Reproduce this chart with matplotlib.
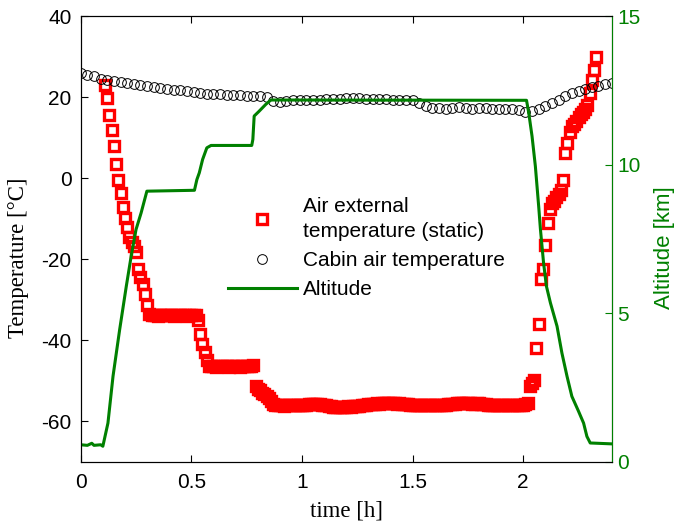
import matplotlib.pyplot as plt
import numpy as np

plt.rcParams['font.family'] = ['Liberation Sans', 'DejaVu Sans']
plt.rcParams['axes.unicode_minus'] = False

# Air external temperature (static) [degC], logged every 0.01 h from t = 0.11 h
air_t0, air_dt = 0.11, 0.01
air_temp = [
    23.1, 19.8, 15.6, 12.0, 8.0, 3.5, -0.4, -3.6, -7.0, -9.8,
    -12.0, -14.4, -15.8, -16.8, -18.2, -22.4, -24.4, -26.0, -28.6, -31.3,
    -33.6, -33.8, -33.7, -33.8, -33.9, -33.8, -33.7, -33.8, -33.8, -33.7,
    -33.8, -33.9, -33.8, -33.8, -33.7, -33.8, -33.8, -33.9, -33.8, -33.7,
    -33.8, -33.8,
    -35.0, -38.5, -41.0, -43.0, -44.8,
    -46.4, -46.3, -46.4, -46.5, -46.4, -46.4, -46.3, -46.4, -46.4, -46.5,
    -46.4, -46.3, -46.4, -46.4, -46.5, -46.4, -46.4, -46.3, -46.4, -46.3,
    -46.2,
    -51.4, -52.0, -52.4, -53.0, -53.4, -53.8, -54.3, -55.0, -55.7,
    -56.0, -56.1, -56.0, -56.1, -56.2, -56.1, -56.0, -56.1, -56.1, -56.0,
    -56.0, -55.9, -55.9, -56.0, -55.9, -55.8, -55.7, -55.7, -55.8, -55.8,
    -55.8, -55.9, -56.0, -56.1, -56.2, -56.3, -56.4, -56.4, -56.5, -56.5,
    -56.4, -56.5, -56.4, -56.3, -56.4, -56.3, -56.2, -56.3, -56.2, -56.1,
    -56.0, -55.9, -55.8, -55.8, -55.7, -55.7, -55.6, -55.7, -55.6, -55.6,
    -55.5, -55.6, -55.5, -55.6, -55.6, -55.7, -55.6, -55.7, -55.7, -55.8,
    -55.8, -55.9, -56.0, -56.0, -56.1, -56.0, -56.1, -56.0, -56.0, -55.9,
    -55.9, -56.0, -56.0, -56.1, -56.0, -56.0, -55.9, -55.9, -55.8, -55.8,
    -55.7, -55.7, -55.6, -55.6, -55.5, -55.6, -55.5, -55.6, -55.6, -55.7,
    -55.7, -55.6, -55.6, -55.7, -55.8, -55.8, -55.9, -55.9, -56.0, -56.0,
    -56.0, -56.1, -56.0, -56.1, -56.1, -56.0, -56.1, -56.0, -56.0, -56.1,
    -56.0, -55.9, -56.0, -55.8, -55.6,
    -51.4, -50.5, -49.8, -42.0, -36.0, -25.0, -22.5, -16.5, -11.1, -7.5,
    -6.2, -5.5, -4.7, -4.0, -3.0, -0.5, 6.2, 8.8, 11.5, 12.8,
    13.4, 14.2, 15.1, 15.8, 16.3, 17.0, 18.1, 21.0, 24.3, 26.7,
    30.0,
]

# Cabin air temperature [degC], logged every 0.03 h from t = 0
cabin_t0, cabin_dt = 0.0, 0.03
cabin_temp = [
    25.9, 25.4, 25.2, 24.5, 24.2, 24.0, 23.8, 23.6, 23.3, 23.0,
    22.7, 22.5, 22.3, 22.1, 21.9, 21.7, 21.5, 21.3, 21.1, 20.9,
    20.8, 20.7, 20.6, 20.5, 20.5, 20.4, 20.4, 20.3, 20.1, 19.0,
    18.8, 19.1, 19.2, 19.3, 19.2, 19.3, 19.4, 19.5, 19.5, 19.6,
    19.8, 19.9, 19.8, 19.6, 19.5, 19.5, 19.5, 19.4, 19.4, 19.4,
    19.2, 18.6, 17.8, 17.4, 17.3, 17.2, 17.4, 17.5, 17.3, 17.1,
    17.3, 17.4, 17.2, 17.0, 17.1, 17.0, 16.8, 16.4, 16.6, 17.0,
    17.8, 18.6, 19.4, 20.4, 21.1, 21.6, 22.1, 22.6, 22.9, 23.2,
    23.5,
]

# Altitude [km]
alt_time = [0.00, 0.03, 0.05, 0.06, 0.09, 0.10, 0.123, 0.146, 0.176, 0.206,
            0.228, 0.25, 0.273, 0.299, 0.514, 0.525, 0.536, 0.551, 0.570, 0.589,
            0.773, 0.778, 0.784, 0.806, 0.836, 0.859, 2.015, 2.025, 2.04, 2.055,
            2.07, 2.078, 2.092, 2.105, 2.123, 2.153, 2.175, 2.198, 2.22, 2.25,
            2.273, 2.288, 2.303, 2.40]
alt_km = [0.57, 0.55, 0.62, 0.55, 0.57, 0.52, 1.30, 2.88, 4.45, 5.91,
          6.92, 7.82, 8.38, 9.11, 9.14, 9.50, 9.73, 10.18, 10.57, 10.65,
          10.65, 10.85, 11.64, 11.80, 12.03, 12.18, 12.17, 11.75, 10.96, 9.95,
          8.60, 7.82, 6.70, 5.91, 5.35, 4.56, 3.66, 2.88, 2.20, 1.70,
          1.30, 0.85, 0.63, 0.60]

air_time = air_t0 + air_dt * np.arange(len(air_temp))
cabin_time = cabin_t0 + cabin_dt * np.arange(len(cabin_temp))

fig = plt.figure(figsize=(6.75, 5.25), dpi=100)
ax = fig.add_axes([0.1196, 0.1206, 0.7866, 0.8484])
ax2 = ax.twinx()

h_air, = ax.plot(air_time, air_temp, 's', ms=6.5, mew=2.4, mfc='none', mec='red',
                 label='Air external\ntemperature (static)')
h_cab, = ax.plot(cabin_time, cabin_temp, 'o', ms=7, mew=0.7, mfc='none', mec='black',
                 label='Cabin air temperature')
h_alt, = ax2.plot(alt_time, alt_km, color='green', lw=2.2, label='Altitude')

ax.set_xlim(0, 2.4)
ax.set_ylim(-70, 40)
ax.set_xticks([0, 0.5, 1, 1.5, 2])
ax.set_xticklabels(['0', '0.5', '1', '1.5', '2'])
ax.set_yticks([-60, -40, -20, 0, 20, 40])
ax2.set_ylim(0, 15)
ax2.set_yticks([0, 5, 10, 15])

ax.tick_params(direction='in', length=5, labelsize=15, top=True, right=False)
ax.tick_params(axis='y', pad=6.5)
ax.tick_params(axis='x', pad=8)
ax2.tick_params(axis='y', direction='in', length=5, labelsize=15, colors='green', pad=4)
ax2.spines['right'].set_color('green')

ax.set_xlabel('time [h]', family='Liberation Serif', fontsize=16.5, labelpad=6)
ax.set_ylabel('Temperature [°C]', family='Liberation Serif', fontsize=16.5)
ax.yaxis.set_label_coords(-0.097, 0.457)
ax2.set_ylabel('Altitude [km]', color='green', fontsize=16)
ax2.yaxis.set_label_coords(1.08, 0.481)

leg = ax2.legend([h_air, h_cab, h_alt], [h.get_label() for h in (h_air, h_cab, h_alt)],
                 loc='upper left', bbox_to_anchor=(0.2775, 0.595), frameon=False,
                 fontsize=15, handlelength=3.3, handletextpad=0.3, labelspacing=0.5,
                 borderpad=0, borderaxespad=0)
for txt in leg.get_texts():
    txt.set_linespacing(1.4)

fig.savefig('out.png', dpi=100)
